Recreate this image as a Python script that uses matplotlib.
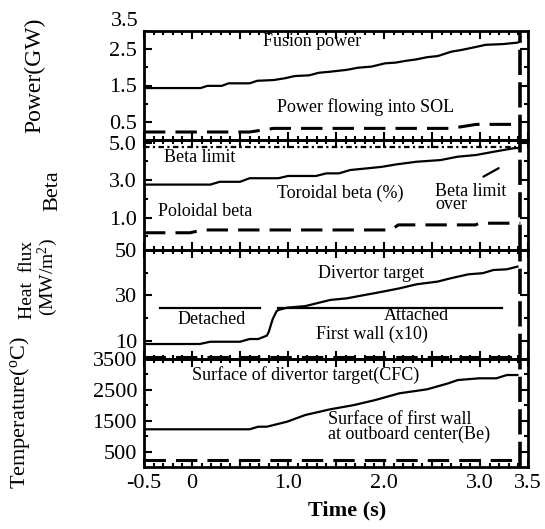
import matplotlib
matplotlib.use('Agg')
import matplotlib.pyplot as plt
from matplotlib.ticker import FixedLocator, FixedFormatter, MultipleLocator
import numpy as np

plt.rcParams['font.family'] = ['Liberation Serif', 'DejaVu Serif']
plt.rcParams['mathtext.fontset'] = 'custom'
plt.rcParams['mathtext.rm'] = 'Liberation Serif'
plt.rcParams['mathtext.it'] = 'Liberation Serif:italic'

W, H = 545, 529

# ---------------- data ----------------
# Panel 1: power (GW)
fusion_t = [-0.5, 0.09, 0.16, 0.31, 0.38, 0.60, 0.68, 0.85, 0.97, 1.07, 1.22, 1.32, 1.44, 1.61,
            1.73, 1.87, 2.01, 2.12, 2.23, 2.34, 2.45, 2.56, 2.70, 2.81, 2.92, 3.06, 3.24, 3.39, 3.42]
fusion_p = [1.43, 1.43, 1.49, 1.49, 1.56, 1.56, 1.63, 1.65, 1.70, 1.76, 1.78, 1.85, 1.88, 1.93,
            1.99, 2.02, 2.11, 2.13, 2.18, 2.22, 2.28, 2.31, 2.43, 2.48, 2.54, 2.62, 2.64, 2.68, 2.71]
sol_t = [-0.5, 0.60, 0.85, 2.70, 2.96, 3.42]
sol_p = [0.22, 0.22, 0.32, 0.32, 0.43, 0.43]

# Panel 2: beta
tor_t = [-0.5, 0.19, 0.29, 0.50, 0.60, 0.90, 1.00, 1.29, 1.40, 1.53, 1.65, 1.83, 1.98, 2.13,
         2.34, 2.59, 2.77, 2.96, 3.14, 3.35, 3.42]
tor_b = [2.76, 2.76, 2.91, 2.91, 3.10, 3.10, 3.22, 3.22, 3.36, 3.36, 3.54, 3.63, 3.71, 3.84,
         3.98, 4.07, 4.25, 4.34, 4.51, 4.70, 4.72]
pol_t = [-0.5, -0.02, 0.11, 2.07, 2.15, 2.95, 3.00, 3.42]
pol_b = [0.19, 0.19, 0.34, 0.34, 0.61, 0.61, 0.70, 0.70]
beta_limit_t = [-0.5, 3.42]
beta_limit = [4.77, 4.77]

# Panel 3: heat flux (MW/m2)
div_t = [-0.5, 0.08, 0.19, 0.50, 0.60, 0.69, 0.78, 0.80, 0.84, 0.88, 0.90, 0.99, 1.18, 1.44,
         1.61, 1.80, 1.98, 2.16, 2.34, 2.56, 2.70, 2.88, 3.03, 3.14, 3.28, 3.39]
div_q = [8.6, 8.6, 9.6, 9.6, 10.8, 10.8, 12.3, 14.0, 19.5, 23.0, 23.6, 24.6, 25.3, 28.0,
         28.7, 30.2, 31.6, 33.1, 34.9, 36.1, 37.6, 39.3, 39.8, 41.2, 41.5, 42.7]
fw_t = [-0.5, 3.42]
fw_q = [2.7, 2.7]
detached_t = [-0.33, 0.71]
attached_t = [0.90, 3.23]
regime_level = 24.6

# Panel 4: temperature (C)
cfc_t = [-0.5, 0.60, 0.69, 0.78, 0.99, 1.18, 1.44, 1.69, 1.91, 2.16, 2.45, 2.67, 2.77, 2.99,
         3.17, 3.28, 3.39]
cfc_T = [1222, 1222, 1306, 1306, 1468, 1685, 1870, 2009, 2171, 2388, 2518, 2712, 2819, 2874,
         2874, 2981, 2981]
be_t = [-0.5, 3.42]
be_T = [230, 230]

end_time = 3.42

x_ticks = [-0.5, 0.0, 0.5, 1.0, 1.5, 2.0, 2.5, 3.0, 3.5]
x_labels = ['-0.5', '0', '', '1.0', '', '2.0', '', '3.0', '3.5']

# ---------------- figure ----------------
fig = plt.figure(figsize=(W / 100, H / 100), dpi=100)

def add_panel(top, bottom):
    return fig.add_axes([144 / W, 1 - bottom / H, 384 / W, (bottom - top) / H])

def ftext(x, y, s, **kw):
    fig.text(x / W, 1 - y / H, s, **kw)

bounds = [31, 140, 250, 359, 467]
axes = [add_panel(bounds[i], bounds[i + 1]) for i in range(4)]

FS_TICK = 16
FS_ANN = 13
FS_LAB = 16

for ax in axes:
    ax.set_xlim(-0.5, 3.5)
    ax.xaxis.set_major_locator(FixedLocator(x_ticks))
    ax.xaxis.set_minor_locator(MultipleLocator(0.1))
    ax.tick_params(which='both', direction='in', top=True, right=True, width=1.5,
                   labelsize=FS_TICK, pad=5)
    ax.tick_params(which='major', length=6)
    ax.tick_params(which='minor', length=3)
    for sp in ax.spines.values():
        sp.set_linewidth(2)
    ax.axvline(end_time, color='black', lw=2.6, dashes=(7, 2))
    ax.patch.set_alpha(0)

for ax in axes[:-1]:
    ax.tick_params(labelbottom=False)
axes[-1].xaxis.set_major_formatter(FixedFormatter(x_labels))

# Panel 1
ax = axes[0]
ax.set_ylim(0, 3.0)
ax.yaxis.set_major_locator(FixedLocator([0.5, 1.5, 2.5]))
ax.yaxis.set_minor_locator(FixedLocator([1.0, 2.0]))
ax.yaxis.set_major_formatter(FixedFormatter(['0.5', '1.5', '2.5']))
ax.plot(fusion_t, fusion_p, color='black', lw=1.6)
ax.plot(sol_t, sol_p, color='black', lw=2.2, dashes=(7, 3.3))
ax.text(-0.015, 3.25, '3.5', transform=ax.get_yaxis_transform(), ha='right', va='center',
        fontsize=FS_TICK, clip_on=False)

# Panel 2
ax = axes[1]
ax.set_ylim(-0.73, 5.14)
ax.yaxis.set_major_locator(FixedLocator([1.0, 3.0, 5.0]))
ax.yaxis.set_minor_locator(FixedLocator([0.0, 2.0, 4.0]))
ax.yaxis.set_major_formatter(FixedFormatter(['1.0', '3.0', '5.0']))
ax.plot(tor_t, tor_b, color='black', lw=1.6)
ax.plot(pol_t, pol_b, color='black', lw=2.2, dashes=(7, 3.3))
ax.plot(beta_limit_t, beta_limit, color='black', lw=1.6, linestyle=(0, (2.5, 1.5, 1, 1.5)))
ax.annotate('', xy=(3.01, 3.11), xytext=(3.22, 3.71),
            arrowprops=dict(arrowstyle='-', lw=1.6, color='black'))

# Panel 3
ax = axes[2]
ax.set_ylim(2, 50)
ax.yaxis.set_major_locator(FixedLocator([10, 30, 50]))
ax.yaxis.set_minor_locator(FixedLocator([20, 40]))
ax.yaxis.set_major_formatter(FixedFormatter(['10', '30', '50']))
ax.plot(div_t, div_q, color='black', lw=1.6)
ax.plot(fw_t, fw_q, color='black', lw=2.2, dashes=(7, 3.3))
ax.plot(detached_t, [regime_level] * 2, color='black', lw=1.6)
ax.plot(attached_t, [regime_level] * 2, color='black', lw=1.6)

# Panel 4
ax = axes[3]
ax.set_ylim(0, 3500)
ax.yaxis.set_major_locator(FixedLocator([500, 1500, 2500, 3500]))
ax.yaxis.set_minor_locator(FixedLocator([1000, 2000, 3000]))
ax.yaxis.set_major_formatter(FixedFormatter(['500', '1500', '2500', '3500']))
ax.plot(cfc_t, cfc_T, color='black', lw=1.6)
ax.plot(be_t, be_T, color='black', lw=2.2, dashes=(7, 3.3))

# ---------------- annotations ----------------
ftext(312, 42, 'Fusion power', ha='center', va='center', fontsize=FS_ANN)
ftext(366, 107, 'Power flowing into SOL', ha='center', va='center', fontsize=FS_ANN)
ftext(200, 158, 'Beta limit', ha='center', va='center', fontsize=FS_ANN)
ftext(340, 193, 'Toroidal beta (%)', ha='center', va='center', fontsize=FS_ANN)
ftext(205, 212, 'Poloidal beta', ha='center', va='center', fontsize=FS_ANN)
ftext(435, 198, 'Beta limit\nover', ha='left', va='center', fontsize=FS_ANN, linespacing=0.75)
ftext(371, 273, 'Divertor target', ha='center', va='center', fontsize=FS_ANN)
ftext(212, 320, 'Detached', ha='center', va='center', fontsize=FS_ANN)
ftext(416, 316, 'Attached', ha='center', va='center', fontsize=FS_ANN)
ftext(372, 334, 'First wall (x10)', ha='center', va='center', fontsize=FS_ANN)
ftext(306, 375, 'Surface of divertor target(CFC)', ha='center', va='center', fontsize=FS_ANN)
ftext(328, 427, 'Surface of first wall\nat outboard center(Be)', ha='left', va='center',
      fontsize=FS_ANN, linespacing=0.85)

ftext(35, 75, 'Power(GW)', ha='center', va='center', rotation=90, fontsize=17)
ftext(53, 191, 'Beta', ha='center', va='center', rotation=90, fontsize=FS_LAB)
ftext(28, 280, 'Heat  flux', ha='center', va='center', rotation=90, fontsize=14)
ftext(48, 277, r'(MW/m$^{\rm 2}$)', ha='center', va='center', rotation=90, fontsize=14)
ftext(20, 413, r'Temperature($^{\rm o}$C)', ha='center', va='center', rotation=90, fontsize=FS_LAB)
ftext(347, 510, 'Time (s)', ha='center', va='center', fontsize=FS_LAB, fontweight='bold')

fig.savefig('out.png', dpi=100)
